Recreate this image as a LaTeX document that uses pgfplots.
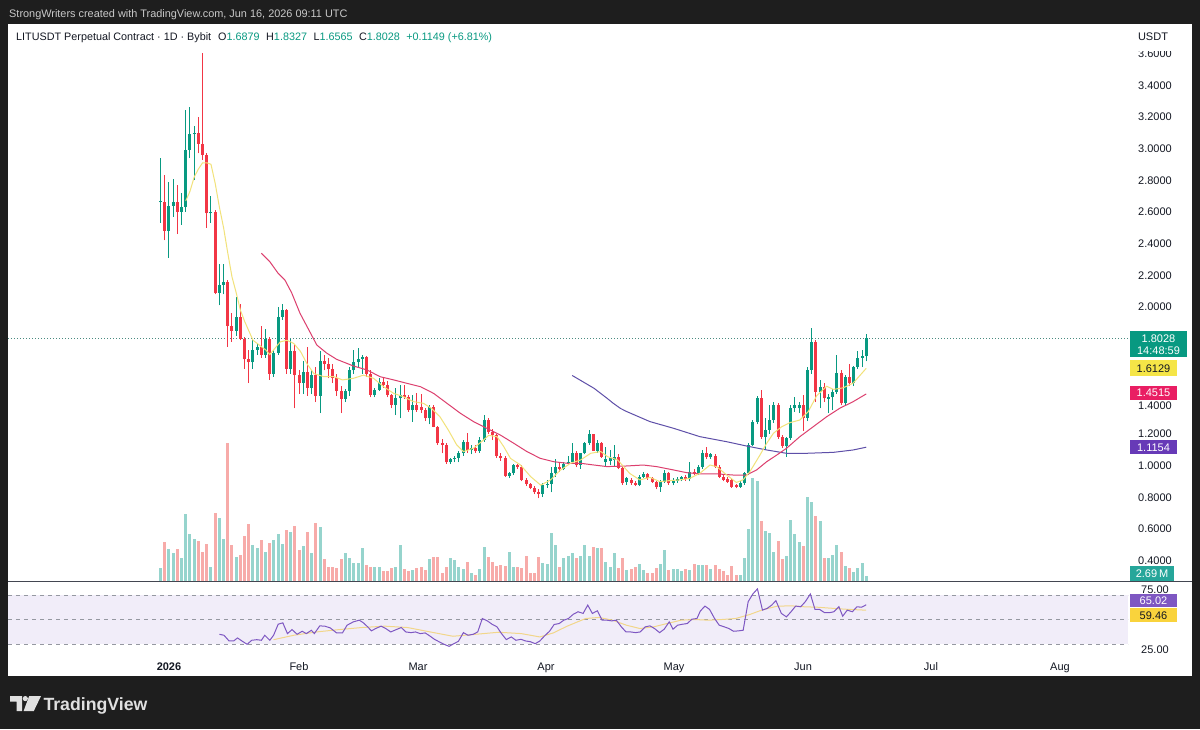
\documentclass[border=0pt]{standalone}
\usepackage{pgfplots}
\pgfplotsset{compat=1.18}
\usepackage{pgfplotstable}
\usepackage{fontspec}
\setmainfont{Liberation Sans}
\definecolor{frame}{HTML}{1E1E1E}
\definecolor{up}{HTML}{089981}
\definecolor{dn}{HTML}{F23645}
\definecolor{vup}{HTML}{96D4CD}
\definecolor{vdn}{HTML}{F7ABA9}
\definecolor{maY}{HTML}{F2E27A}
\definecolor{maR}{HTML}{DC3F6E}
\definecolor{maP}{HTML}{5E4FA8}
\definecolor{rsiL}{HTML}{7E57C2}
\definecolor{rsiM}{HTML}{F2D68A}
\definecolor{band}{HTML}{F1EDF9}
\definecolor{ink}{HTML}{131722}
\definecolor{dashc}{HTML}{9598A1}
\definecolor{hdr}{HTML}{C9C9C9}
\definecolor{sep}{HTML}{434651}
\definecolor{bYel}{HTML}{F5E547}
\definecolor{bPink}{HTML}{E91E63}
\definecolor{bPur}{HTML}{673AB7}
\definecolor{bTeal}{HTML}{26A69A}
\definecolor{bRsiY}{HTML}{F9D33C}
\definecolor{logo}{HTML}{E0E0E0}

\pgfplotstableread{
d O H L C V
-2 2.66 2.94 2.53 2.665 12.7
-1 2.665 2.83 2.42 2.48 39
0 2.48 2.79 2.31 2.64 32
1 2.64 2.81 2.57 2.66 28
2 2.66 2.77 2.46 2.60 32
3 2.60 2.72 2.52 2.63 23
4 2.63 3.24 2.60 2.99 67
5 2.99 3.26 2.94 3.09 47
6 3.09 3.14 2.80 3.10 42
7 3.10 3.20 2.97 3.03 40
8 3.03 3.60 2.93 2.96 29
9 2.96 2.97 2.50 2.59 37
10 2.59 2.70 2.53 2.60 14
11 2.60 2.61 2.08 2.09 68
12 2.09 2.27 2.01 2.14 63
13 2.14 2.27 2.08 2.16 42
14 2.16 2.17 1.75 1.88 138
15 1.88 1.96 1.78 1.85 36
16 1.85 2.06 1.82 1.94 24
17 1.94 2.02 1.79 1.80 26
18 1.80 1.81 1.61 1.67 45
19 1.67 1.73 1.52 1.65 57
20 1.65 1.80 1.61 1.73 36
21 1.73 1.77 1.70 1.75 33
22 1.75 1.88 1.68 1.70 41
23 1.70 1.86 1.68 1.80 29
24 1.80 1.81 1.54 1.58 38
25 1.58 1.73 1.56 1.71 41
26 1.71 2.00 1.70 1.94 47
27 1.94 2.02 1.92 1.98 36.7
28 1.98 1.99 1.58 1.61 50.7
29 1.61 1.80 1.58 1.72 49
30 1.72 1.76 1.36 1.57 55
31 1.57 1.60 1.45 1.52 30.7
32 1.52 1.66 1.45 1.59 34.7
33 1.59 1.75 1.44 1.49 49
34 1.49 1.60 1.45 1.57 28
35 1.57 1.62 1.40 1.44 58
36 1.44 1.72 1.33 1.66 54
37 1.66 1.70 1.60 1.64 21.3
38 1.64 1.68 1.55 1.61 14
39 1.61 1.64 1.52 1.55 14
40 1.55 1.58 1.44 1.47 12.3
41 1.47 1.50 1.33 1.42 21.3
42 1.42 1.48 1.40 1.47 28
43 1.47 1.62 1.44 1.60 22.3
44 1.60 1.73 1.58 1.65 17.3
45 1.65 1.74 1.62 1.675 18
46 1.675 1.70 1.58 1.686 32.3
47 1.686 1.69 1.56 1.58 15.7
48 1.58 1.60 1.43 1.445 14
49 1.445 1.49 1.43 1.476 14
50 1.476 1.55 1.47 1.528 14
51 1.528 1.55 1.49 1.507 10
52 1.507 1.53 1.43 1.445 10
53 1.445 1.45 1.36 1.382 12.3
54 1.382 1.49 1.318 1.424 14
55 1.424 1.508 1.297 1.445 35.7
56 1.445 1.51 1.42 1.435 11.3
57 1.435 1.445 1.34 1.35 10
58 1.35 1.445 1.276 1.382 10.7
59 1.382 1.455 1.34 1.35 12.3
60 1.37 1.45 1.33 1.35 14
61 1.35 1.36 1.28 1.297 10.7
62 1.297 1.38 1.26 1.371 21.3
63 1.371 1.38 1.24 1.244 24
64 1.244 1.25 1.13 1.14 23.3
65 1.14 1.17 1.077 1.13 7.3
66 1.13 1.14 1.01 1.02 14
67 1.02 1.05 1.01 1.04 22.3
68 1.04 1.06 1.02 1.05 20.7
69 1.05 1.09 1.02 1.077 14
70 1.077 1.16 1.06 1.149 11.3
71 1.149 1.203 1.08 1.098 19
72 1.098 1.13 1.07 1.11 7.3
73 1.11 1.13 1.08 1.09 5.7
74 1.09 1.18 1.08 1.16 11.3
75 1.16 1.318 1.15 1.287 33.3
76 1.287 1.30 1.20 1.213 23.3
77 1.213 1.23 1.16 1.19 19
78 1.19 1.20 1.05 1.06 14.7
79 1.06 1.08 1.03 1.05 15.7
80 1.05 1.06 0.93 0.936 14.7
81 0.936 0.96 0.92 0.95 29
82 0.95 1.01 0.94 1.00 14
83 1.00 1.01 0.98 0.99 13.3
84 0.99 1.00 0.90 0.908 12.3
85 0.908 0.92 0.87 0.885 24.7
86 0.885 0.89 0.85 0.86 8
87 0.86 0.87 0.82 0.83 8
88 0.83 0.85 0.793 0.82 24
89 0.82 0.89 0.80 0.876 18
90 0.876 0.91 0.86 0.885 16.7
91 0.885 0.99 0.83 0.95 48
92 0.95 1.04 0.93 0.99 35.7
93 0.99 1.02 0.96 0.975 14
94 0.975 1.02 0.97 1.01 22.3
95 1.01 1.06 1.00 1.02 24.7
96 1.02 1.14 1.01 1.077 28
97 1.077 1.09 0.99 1.00 22.3
98 1.00 1.08 0.98 1.077 24.7
99 1.077 1.15 1.07 1.14 35.7
100 1.14 1.227 1.13 1.198 24.7
101 1.198 1.20 1.09 1.094 33.3
102 1.094 1.16 1.08 1.14 32.3
103 1.14 1.15 1.05 1.056 32.3
104 1.025 1.119 0.993 1.04 19
105 1.03 1.10 1.00 1.045 14
106 1.035 1.129 0.993 1.056 28
107 1.056 1.07 0.975 0.982 12.3
108 0.982 0.99 0.877 0.888 22.3
109 0.893 0.93 0.88 0.919 10.7
110 0.909 0.92 0.877 0.888 11.3
111 0.89 0.90 0.87 0.88 13.3
112 0.877 0.94 0.87 0.93 16.7
113 0.93 0.96 0.92 0.947 10.7
114 0.947 0.955 0.91 0.919 8
115 0.919 0.93 0.89 0.898 7.3
116 0.898 0.905 0.85 0.867 12.3
117 0.867 0.91 0.835 0.898 16.7
118 0.898 0.97 0.89 0.955 30.7
119 0.955 0.96 0.88 0.888 10.7
120 0.888 0.92 0.875 0.909 11.3
121 0.905 0.925 0.89 0.917 11.3
122 0.913 0.935 0.90 0.93 10
123 0.93 0.94 0.905 0.913 11.3
124 0.913 1.024 0.90 0.961 10.7
125 0.961 0.98 0.94 0.947 16.7
126 0.947 1.00 0.94 0.993 15.7
127 0.993 1.098 0.98 1.077 15.7
128 1.077 1.119 1.04 1.052 15.7
129 1.052 1.08 1.04 1.073 11.3
130 1.06 1.07 0.985 0.993 15.7
131 0.993 1.00 0.92 0.93 11.7
132 0.93 0.94 0.90 0.909 9.3
133 0.913 0.93 0.89 0.898 5.7
134 0.909 0.915 0.86 0.867 15
135 0.877 0.885 0.855 0.867 5.7
136 0.867 0.90 0.86 0.888 5.7
137 0.888 0.96 0.88 0.951 22.7
138 0.951 1.14 0.94 1.129 51.7
139 1.129 1.29 1.12 1.277 103
140 1.277 1.44 1.26 1.424 100
141 1.424 1.476 1.17 1.182 60
142 1.182 1.30 1.098 1.224 50
143 1.224 1.38 1.20 1.287 47.7
144 1.287 1.40 1.27 1.382 28.3
145 1.382 1.392 1.17 1.182 40
146 1.182 1.19 1.11 1.123 21.7
147 1.123 1.18 1.056 1.171 25
148 1.171 1.38 1.16 1.361 61
149 1.361 1.434 1.34 1.382 46.7
150 1.36 1.40 1.33 1.38 38.3
151 1.38 1.445 1.22 1.30 35
152 1.30 1.62 1.28 1.603 83.3
153 1.603 1.865 1.58 1.781 79
154 1.781 1.79 1.40 1.466 65
155 1.466 1.54 1.361 1.497 60
156 1.497 1.52 1.40 1.424 22.7
157 1.42 1.45 1.33 1.43 22.7
158 1.43 1.48 1.35 1.466 26
159 1.466 1.697 1.45 1.582 36
160 1.582 1.603 1.38 1.392 28.3
161 1.392 1.57 1.38 1.556 15
162 1.556 1.64 1.50 1.518 12.7
163 1.518 1.63 1.50 1.624 8.3
164 1.624 1.72 1.61 1.68 12.7
165 1.68 1.73 1.62 1.6879 17.3
166 1.6879 1.8327 1.6565 1.8028 5
}\candles

\newcommand\fa{\fontsize{11}{13}\selectfont}
\newcommand\fh{\fontsize{10.8}{13}\selectfont}
% RSI value r is drawn at price-scale height 2-(288+(75-r)*0.98)/158.5 (RSI pane below the price pane)
\pgfplotsset{rsipane/.style={y filter/.expression={2.0-(288+(75-y)*0.98)/158.5}}}

\begin{document}
\begin{tikzpicture}[x=1pt,y=1pt]
\fill[frame] (0,0) rectangle (1200,729);
\fill[white] (8,53) rectangle (1192,705);

\begin{axis}[at={(8pt,76pt)}, anchor=south west, scale only axis,
  width=1120pt, height=629pt, xmin=-38.33, xmax=228.33,
  ymin=-0.18297, ymax=3.7855, clip=true,
  separate axis lines, axis line style={draw=none},
  xtick=\empty, ytick=\empty]
% RSI pane background and levels (75, 50, 25)
\fill[band] (axis cs:-38.33,0.18297) rectangle (axis cs:228.33,-0.12618);
\draw[dashc, dash pattern=on 4pt off 4pt, line width=0.8pt] (axis cs:-38.33,0.18297) -- (axis cs:228.33,0.18297);
\draw[dashc, dash pattern=on 4pt off 4pt, line width=0.8pt] (axis cs:-38.33,0.02839) -- (axis cs:228.33,0.02839);
\draw[dashc, dash pattern=on 4pt off 4pt, line width=0.8pt] (axis cs:-38.33,-0.12618) -- (axis cs:228.33,-0.12618);
% volume bars, drawn up from the bottom of the price pane
\addplot[draw=none, mark=none, error bars/.cd, y dir=plus, y explicit, error mark=none,
  error bar style={draw=vup, line width=3pt}]
  table[x=d, y expr={0.2732}, y error expr={\thisrow{V}/158.5*(\thisrow{C}>=\thisrow{O})}]{\candles};
\addplot[draw=none, mark=none, error bars/.cd, y dir=plus, y explicit, error mark=none,
  error bar style={draw=vdn, line width=3pt}]
  table[x=d, y expr={0.2732}, y error expr={\thisrow{V}/158.5*(\thisrow{C}<\thisrow{O})}]{\candles};
% last price line
\addplot[color=up!45!gray, line width=0.8pt, dash pattern=on 1pt off 2pt] coordinates {(-38.33,1.8028)(228.33,1.8028)};
% wicks
\addplot[draw=none, mark=none, error bars/.cd, y dir=plus, y explicit, error mark=none,
  error bar style={draw=up, line width=1pt}]
  table[x=d, y=L, y error expr={(\thisrow{H}-\thisrow{L})*(\thisrow{C}>=\thisrow{O})}]{\candles};
\addplot[draw=none, mark=none, error bars/.cd, y dir=plus, y explicit, error mark=none,
  error bar style={draw=dn, line width=1pt}]
  table[x=d, y=L, y error expr={(\thisrow{H}-\thisrow{L})*(\thisrow{C}<\thisrow{O})}]{\candles};
% bodies
\addplot[draw=none, mark=none, error bars/.cd, y dir=plus, y explicit, error mark=none,
  error bar style={draw=up, line width=3pt}]
  table[x=d, y expr={min(\thisrow{O},\thisrow{C})}, y error expr={max(abs(\thisrow{C}-\thisrow{O}),0.0063)*(\thisrow{C}>=\thisrow{O})}]{\candles};
\addplot[draw=none, mark=none, error bars/.cd, y dir=plus, y explicit, error mark=none,
  error bar style={draw=dn, line width=3pt}]
  table[x=d, y expr={min(\thisrow{O},\thisrow{C})}, y error expr={max(abs(\thisrow{C}-\thisrow{O}),0.0063)*(\thisrow{C}<\thisrow{O})}]{\candles};
% moving averages 99, 25, 7
\addplot[maP, line width=1pt] coordinates {
(96,1.568)(101.2,1.487)(104.3,1.424)(105.8,1.392)(107.5,1.36)(109,1.34)(114.5,1.277)
(120.1,1.235)(126.4,1.182)(132.8,1.15)(137.5,1.123)(142.3,1.098)(147,1.077)(151.8,1.077)
(158.2,1.083)(162.9,1.098)(166,1.1154)};
\addplot[maR, line width=1pt] coordinates {
(22,2.339)(24,2.286)(26,2.212)(27.6,2.17)(29.2,2.09)(31.2,1.96)(33.2,1.86)(35.2,1.76)
(37.5,1.71)(39.9,1.67)(43.9,1.628)(47.1,1.603)(50.3,1.56)(53.5,1.54)(56.7,1.518)
(59.9,1.497)(63,1.455)(66.2,1.392)(69.4,1.329)(72.5,1.277)(75.7,1.234)(78.9,1.192)
(82.1,1.14)(85.2,1.088)(88.4,1.045)(91.6,1.024)(94.8,1.014)(98,1.014)(101.2,1.003)
(104.3,0.993)(109,0.997)(112.9,1.003)(116.1,0.993)(120.1,0.972)(123.2,0.955)(126.4,0.947)
(130.4,0.947)(134.3,0.94)(137.5,0.94)(139.9,0.972)(142.3,1.024)(144.7,1.066)(147,1.108)
(150.2,1.182)(153.4,1.245)(156.6,1.308)(159.7,1.361)(162.9,1.403)(166,1.4515)};
\addplot[maY, line width=1pt] coordinates {
(4,2.67)(5,2.73)(6,2.82)(7,2.87)(8,2.91)(9,2.91)(10,2.90)(11,2.78)(12,2.63)(13,2.50)
(14,2.34)(15,2.19)(16,2.09)(17,1.98)(18,1.91)(19,1.85)(20,1.79)(21,1.77)(22,1.75)
(23,1.73)(24,1.70)(26.5,1.78)(28.1,1.79)(29.7,1.77)(31.3,1.72)(32.9,1.64)(34.5,1.58)
(36.9,1.56)(39.3,1.56)(41.3,1.54)(43.9,1.55)(46.3,1.57)(48.7,1.55)(51.1,1.497)
(53.5,1.455)(55.8,1.434)(58.2,1.403)(60.6,1.392)(62.5,1.36)(64.5,1.308)(66.5,1.224)
(68.5,1.13)(70.1,1.088)(72.5,1.109)(74.9,1.161)(76.1,1.19)(78.1,1.182)(79.7,1.119)
(81.3,1.045)(83.7,1.003)(86.1,0.93)(88.5,0.876)(90.8,0.908)(93.2,0.971)(95.6,1.014)
(98,1.035)(100.4,1.077)(102.8,1.088)(104.4,1.056)(106.8,1.035)(109.7,0.95)(112.1,0.909)
(114.5,0.925)(116.9,0.898)(119.3,0.905)(121.7,0.909)(124,0.919)(126.4,0.951)(128.8,1.003)
(130.4,0.993)(132.8,0.94)(135.1,0.893)(136.7,0.91)(138.3,0.961)(140.7,1.066)(142.3,1.14)
(143.9,1.203)(145.9,1.245)(147.8,1.27)(150.2,1.287)(152.2,1.34)(154.2,1.44)(156.6,1.50)
(158.2,1.48)(160.5,1.49)(162.9,1.52)(166,1.6129)};
% RSI(14) and its moving average
\addplot[rsiM, line width=1pt, rsipane] coordinates {
(24.9,29.4)(29.7,33.9)(35.1,37.3)(40.5,39.7)(45.9,41.8)(51.4,43.2)(56.8,41.8)(62.2,37.3)
(67.6,32.9)(73.0,34.9)(78.5,37.0)(83.9,35.6)(88.3,32.2)(91.5,36.3)(94.8,43.2)(99.2,51.0)
(102.4,52.1)(105.6,49.3)(108.9,44.2)(112.1,40.8)(115.4,42.5)(118.6,45.9)(121.9,49.3)
(125.1,50.0)(128.4,49.3)(131.7,50.0)(134.9,51.0)(138.2,55.0)(141.4,60.0)(144.7,63.5)
(148.0,64.0)(151.2,63.0)(154.5,62.5)(157.7,61.5)(161.0,60.5)(166.0,59.5)};
\addplot[rsiL, line width=1pt, rsipane] coordinates {
(12.0,34.9)(13.1,33.9)(14.3,28.1)(15.4,28.1)(16.3,31.2)(17.5,27.7)(18.6,24.7)(19.7,28.8)
(20.9,29.4)(22.0,28.8)(22.8,33.9)(24.0,28.8)(24.9,33.9)(26.0,45.2)(27.1,46.6)(28.2,35.6)
(29.3,39.7)(30.5,34.9)(31.7,38.0)(32.7,35.6)(33.9,39.0)(34.6,35.6)(35.9,43.5)(37.1,43.2)
(38.4,41.4)(39.9,36.3)(41.3,36.3)(42.4,44.2)(43.9,47.6)(45.3,49.3)(46.2,46.9)(47.3,42.5)
(48.2,38.4)(49.2,40.8)(50.5,43.2)(51.6,40.8)(52.8,37.3)(54.1,39.7)(55.3,41.8)(56.4,37.3)
(57.6,36.6)(58.7,37.3)(59.8,35.6)(61.0,36.3)(62.1,33.2)(63.3,29.5)(64.4,27.1)(65.5,24.7)
(66.7,22.6)(67.8,25.3)(68.9,27.7)(70.1,36.6)(71.2,33.9)(72.4,34.9)(73.5,37.3)(74.6,51.0)
(75.8,48.6)(76.9,45.2)(78.1,42.5)(79.0,36.6)(80.3,29.5)(81.5,32.2)(82.6,28.8)(83.8,29.8)
(84.9,28.1)(86.0,27.4)(87.2,25.3)(88.3,28.1)(89.4,33.2)(90.6,38.0)(91.7,44.9)(92.9,45.9)
(94.0,49.3)(95.1,51.0)(96.3,55.5)(97.4,57.9)(98.6,56.2)(99.7,64.7)(100.8,56.2)(102.0,58.9)
(103.1,49.3)(104.3,49.3)(105.4,48.6)(106.5,49.3)(107.7,42.5)(108.8,37.3)(109.9,37.3)
(111.1,36.6)(112.2,37.3)(113.4,42.5)(114.5,43.5)(115.6,40.8)(116.8,36.6)(117.9,40.1)
(119.1,47.6)(120.0,40.1)(121.1,44.2)(122.3,45.2)(123.4,45.9)(124.5,50.3)(125.7,51.0)
(126.5,58.6)(127.6,63.7)(128.7,60.3)(129.9,51.0)(131.0,44.2)(132.2,42.5)(133.3,40.8)
(134.4,38.0)(135.6,38.4)(136.7,39.0)(137.9,68.2)(139.0,76.0)(140.1,81.2)(141.3,59.6)
(142.4,61.3)(143.5,64.7)(144.5,69.2)(145.8,56.2)(147.0,52.7)(148.1,57.9)(149.2,63.7)
(150.4,63.0)(151.5,68.2)(152.7,76.0)(153.8,60.3)(154.9,60.3)(156.1,56.9)(157.2,56.9)
(158.3,57.9)(159.5,63.0)(160.4,53.4)(161.5,59.6)(162.7,57.9)(163.8,63.0)(164.9,62.5)(166.0,65.0)};
\end{axis}

% ---------- pane separator, scale labels ----------
\draw[sep, line width=1.2pt] (8,147.4) -- (1192,147.4);

\begin{scope}[ink, font=\fa]
\node[anchor=base] at (1155,729-57.5) {3.6000};
\fill[white] (1128,729-51.5) rectangle (1192,705);
\node[anchor=base] at (1153,729-41) {USDT};
\node[anchor=base] at (1155,729-89.1) {3.4000};
\node[anchor=base] at (1155,729-120.8) {3.2000};
\node[anchor=base] at (1155,729-152.5) {3.0000};
\node[anchor=base] at (1155,729-184.2) {2.8000};
\node[anchor=base] at (1155,729-215.9) {2.6000};
\node[anchor=base] at (1155,729-247.6) {2.4000};
\node[anchor=base] at (1155,729-279.3) {2.2000};
\node[anchor=base] at (1155,729-311) {2.0000};
\node[anchor=base] at (1155,729-409.5) {1.4000};
\node[anchor=base] at (1155,729-437.8) {1.2000};
\node[anchor=base] at (1155,729-469.5) {1.0000};
\node[anchor=base] at (1155,729-501.2) {0.8000};
\node[anchor=base] at (1155,729-532.9) {0.6000};
\node[anchor=base] at (1155,729-564.6) {0.4000};
\node[anchor=base] at (1155,729-593.3) {75.00};
\node[anchor=base] at (1155,729-653.3) {25.00};
\end{scope}
\fill[white] (1128,729-676) rectangle (1192,729-653.5);

% badges
\fill[up] (1130,729-357.5) rectangle (1187,729-331.5);
\node[white, font=\fa, anchor=base] at (1158.5,729-342.5) {1.8028};
\node[white, font=\fa, anchor=base] at (1158.5,729-354.5) {14:48:59};
\fill[bYel] (1130,729-376.5) rectangle (1177,729-360.5);
\node[ink, font=\fa, anchor=base] at (1153.5,729-372.5) {1.6129};
\fill[bPink] (1130,729-400) rectangle (1177,729-386);
\node[white, font=\fa, anchor=base] at (1153.5,729-397) {1.4515};
\fill[bPur] (1130,729-454.5) rectangle (1177,729-440);
\node[white, font=\fa, anchor=base] at (1153.5,729-451.3) {1.1154};
\fill[bTeal] (1130,729-580.5) rectangle (1174,729-566.5);
\node[white, font=\fa, anchor=base] at (1152,729-577.5) {2.69\,M};
\fill[rsiL] (1130,729-607.3) rectangle (1177,729-594);
\node[white, font=\fa, anchor=base] at (1153.5,729-604.6) {65.02};
\fill[bRsiY] (1130,729-621.7) rectangle (1177,729-608.2);
\node[ink, font=\fa, anchor=base] at (1153.5,729-619) {59.46};

% dates
\begin{scope}[ink, font=\fa]
\node[anchor=base] at (169,729-670) {\bfseries 2026};
\node[anchor=base] at (299,729-670) {Feb};
\node[anchor=base] at (418,729-670) {Mar};
\node[anchor=base] at (546,729-670) {Apr};
\node[anchor=base] at (674,729-670) {May};
\node[anchor=base] at (803,729-670) {Jun};
\node[anchor=base] at (931,729-670) {Jul};
\node[anchor=base] at (1060,729-670) {Aug};
\end{scope}

% header
\node[anchor=base west, inner sep=0pt, ink, font=\fh] at (16,729-41)
 {LITUSDT Perpetual Contract · 1D · Bybit\hspace{7pt}O\textcolor{up}{1.6879}\hspace{6.5pt}H\textcolor{up}{1.8327}\hspace{6.5pt}L\textcolor{up}{1.6565}\hspace{6.5pt}C\textcolor{up}{1.8028}\hspace{6.5pt}\textcolor{up}{+0.1149 (+6.81\%)}};
\node[anchor=base west, inner sep=0pt, hdr, font=\fontsize{10.9}{13}\selectfont] at (9,729-18)
 {StrongWriters created with TradingView.com, Jun 16, 2026 09:11 UTC};

% logo
\fill[logo] (10,33) -- (22,33) -- (22,18) -- (16.5,18) -- (16.5,27.5) -- (10,27.5) -- cycle;
\fill[logo] (25.3,30.4) circle (2.6);
\fill[logo] (29.2,33) -- (41,33) -- (33.8,18) -- (23.6,18) -- cycle;
\node[anchor=base west, inner sep=0pt, logo] at (43.3,18.5) {\resizebox{104pt}{!}{\bfseries TradingView}};

\pgfresetboundingbox
\path[use as bounding box] (0,0) rectangle (1200,729);
\end{tikzpicture}
\end{document}
